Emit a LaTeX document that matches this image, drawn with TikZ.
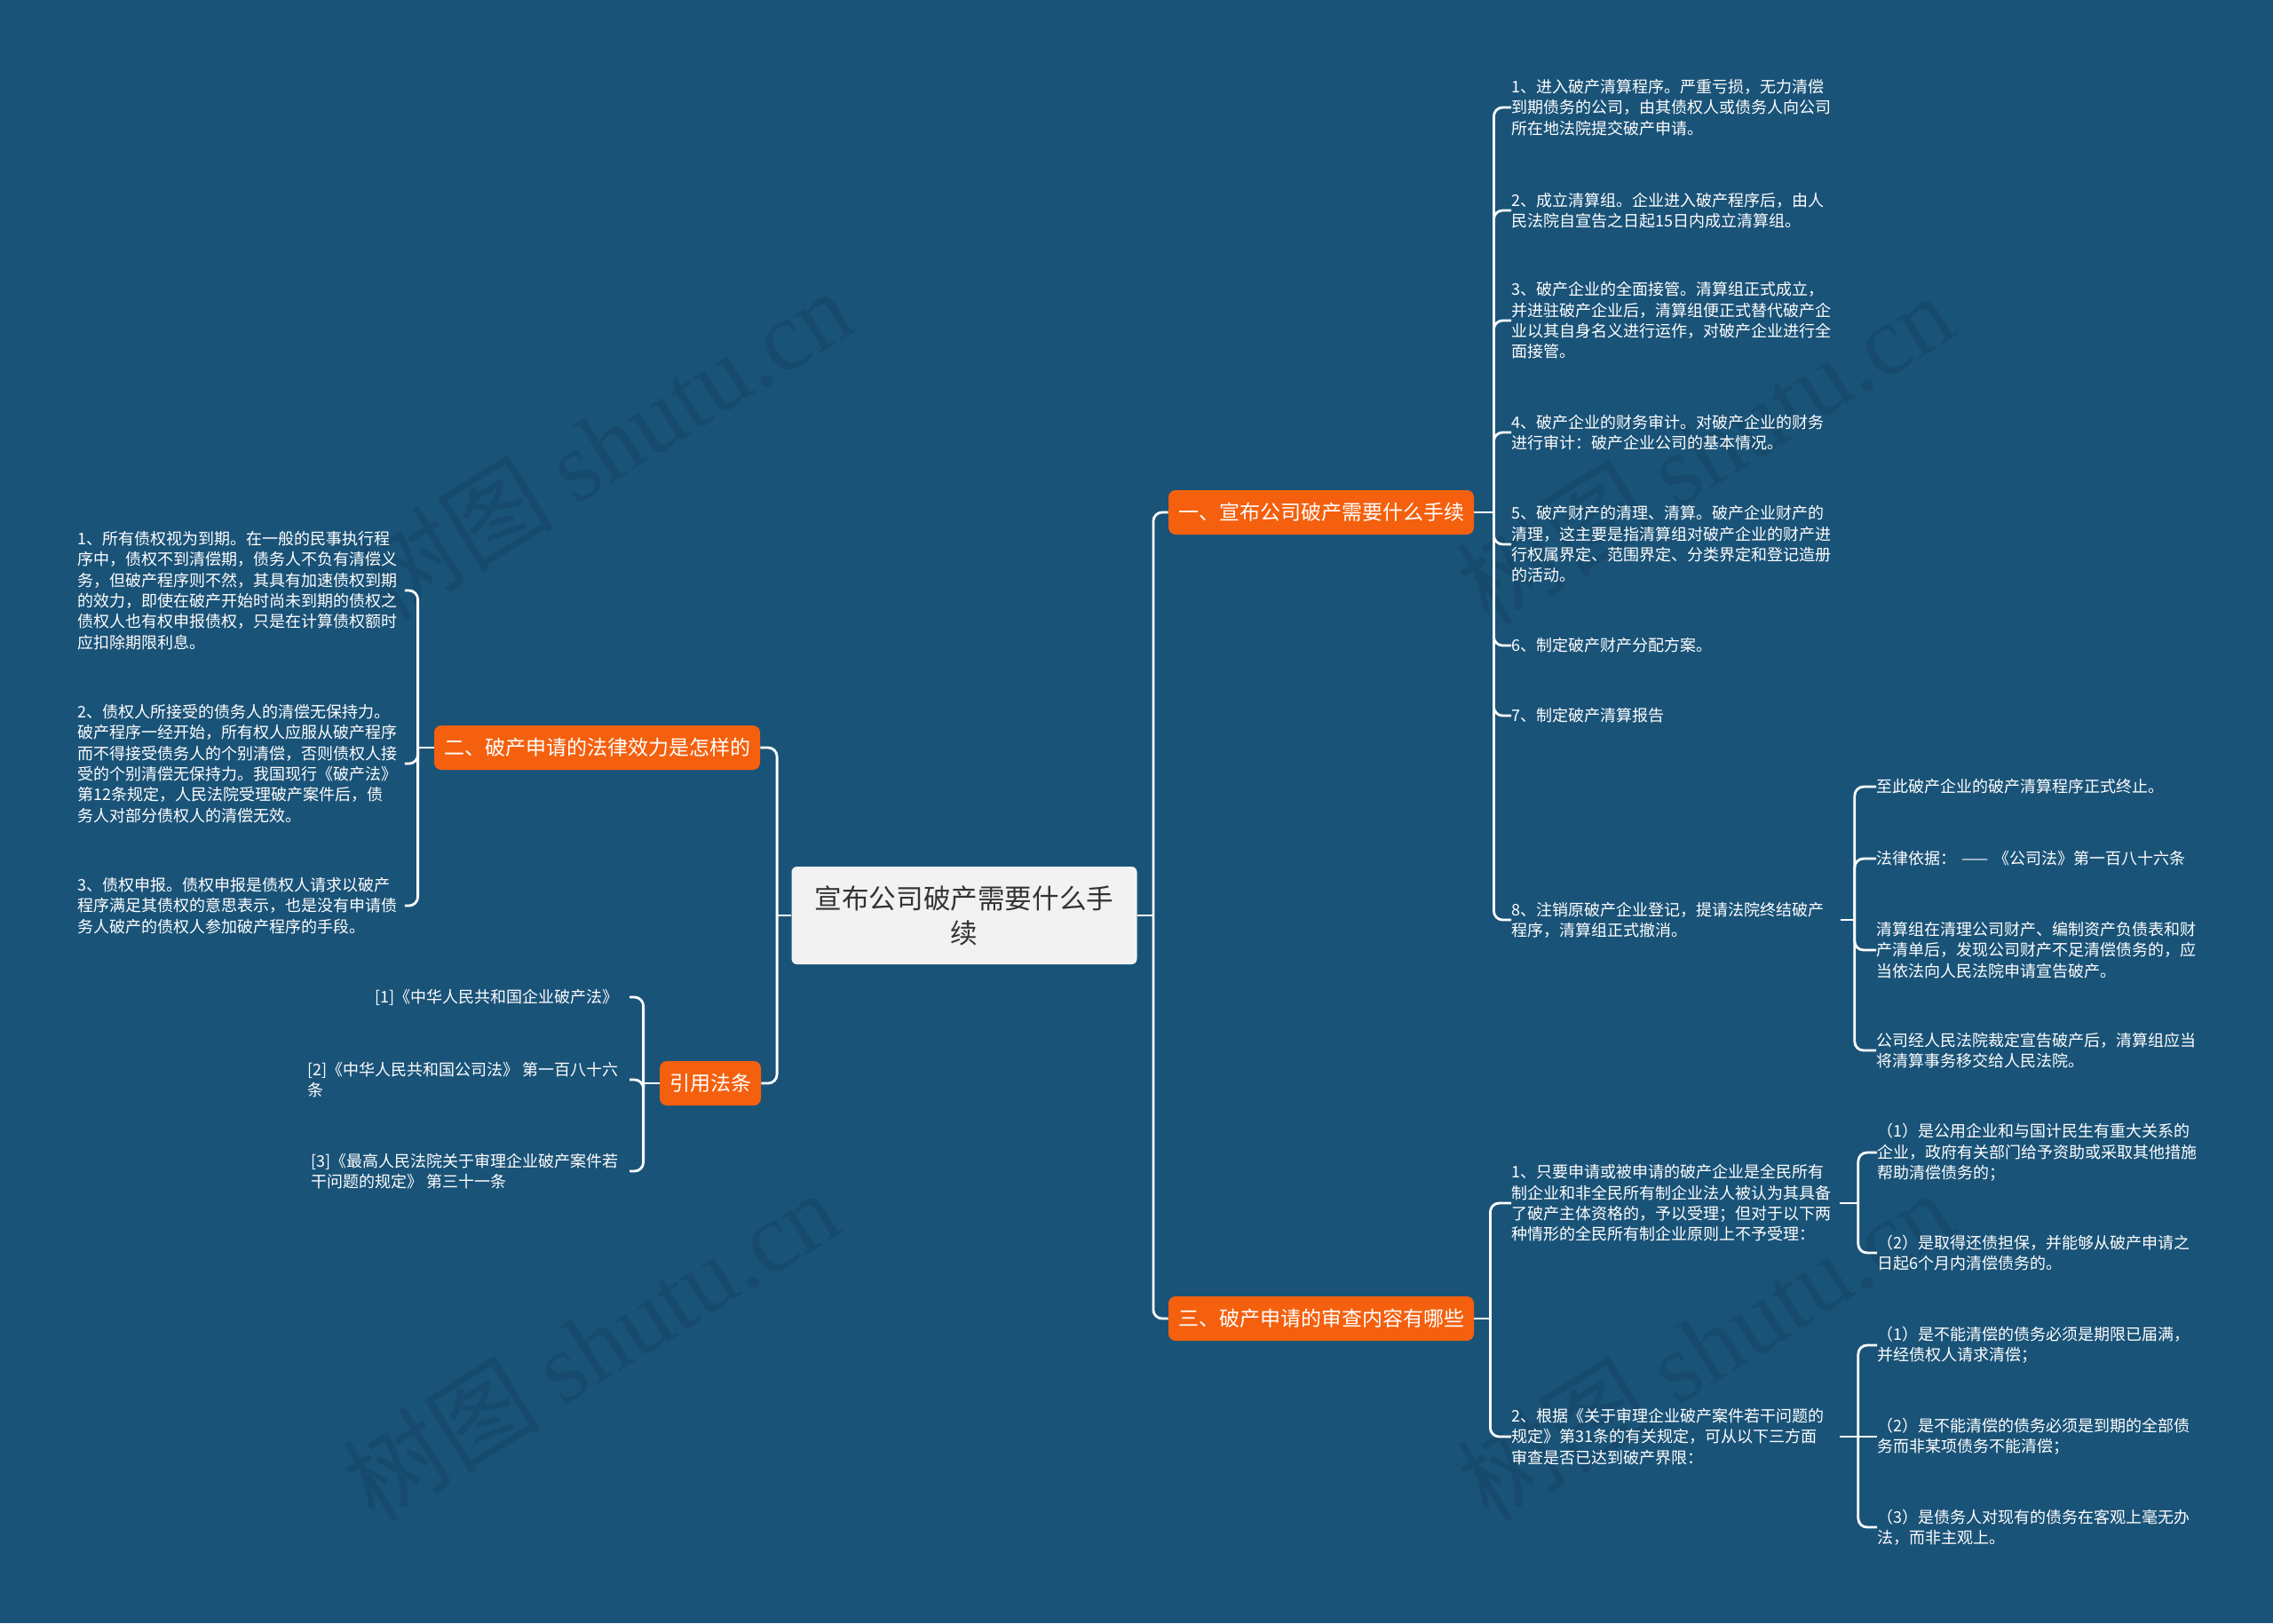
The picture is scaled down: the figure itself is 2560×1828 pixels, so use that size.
\documentclass[tikz,border=0pt]{standalone}
\usepackage{fontspec}
\setmainfont{Noto Sans CJK SC}
\newfontfamily\wmlatin{Liberation Serif}
\definecolor{bgblue}{HTML}{1A5378}
\definecolor{brorange}{HTML}{F4600E}
\definecolor{rootfill}{HTML}{F2F2F2}
\definecolor{roottext}{HTML}{333333}
\tikzset{
  conn/.style={draw=white, line width=1.4pt, rounded corners=5pt},
  rootbox/.style={fill=rootfill, text=roottext, rounded corners=3pt, minimum width=194.5pt, minimum height=55pt, align=center, font=\fontsize{15.3}{19.5}\selectfont},
  brbox/.style={fill=brorange, text=white, rounded corners=4pt, minimum height=25pt, inner xsep=5.5pt, inner ysep=0pt, font=\fontsize{11.5}{14}\selectfont},
  leaf/.style={text=white, font=\fontsize{9}{11.65}\selectfont, align=left, inner sep=0pt},
  leafR/.style={leaf, anchor=west, text width=181pt},
  leafL/.style={leaf, anchor=east},
  wm/.style={rotate=32, text=black, opacity=0.09, font=\fontsize{56}{60}\selectfont}
}
\begin{document}
\begin{tikzpicture}[x=0.5pt,y=-0.5pt]
\fill[bgblue] (0,0) rectangle (2560,1828);
\useasboundingbox (0,0) rectangle (2560,1828);
% watermarks
\node[wm] (wm1) at (680,500) {树图 {\wmlatin shutu.cn}};
\node[wm] (wm2) at (1920,505) {树图 {\wmlatin shutu.cn}};
\node[wm] (wm3) at (665,1515) {树图 {\wmlatin shutu.cn}};
\node[wm] (wm4) at (1920,1515) {树图 {\wmlatin shutu.cn}};

% root and branches
\node[rootbox] (root) at (1086,1031) {宣布公司破产需要什么手\\续};
\node[brbox, minimum width=172pt] (b1) at (1488,577) {一、宣布公司破产需要什么手续};
\node[brbox, minimum width=172pt] (b3) at (1488,1485) {三、破产申请的审查内容有哪些};
\node[brbox] (b2) at (672.5,842) {二、破产申请的法律效力是怎样的};
\node[brbox] (b4) at (800,1220) {引用法条};

% branch 1 leaves
\node[leafR] (c1) at (1702,121) {1、进入破产清算程序。严重亏损，无力清偿\\到期债务的公司，由其债权人或债务人向公司\\所在地法院提交破产申请。};
\node[leafR] (c2) at (1702,237) {2、成立清算组。企业进入破产程序后，由人\\民法院自宣告之日起15日内成立清算组。};
\node[leafR] (c3) at (1702,361) {3、破产企业的全面接管。清算组正式成立，\\并进驻破产企业后，清算组便正式替代破产企\\业以其自身名义进行运作，对破产企业进行全\\面接管。};
\node[leafR] (c4) at (1702,487) {4、破产企业的财务审计。对破产企业的财务\\进行审计：破产企业公司的基本情况。};
\node[leafR] (c5) at (1702,613) {5、破产财产的清理、清算。破产企业财产的\\清理，这主要是指清算组对破产企业的财产进\\行权属界定、范围界定、分类界定和登记造册\\的活动。};
\node[leafR] (c6) at (1702,727) {6、制定破产财产分配方案。};
\node[leafR] (c7) at (1702,806) {7、制定破产清算报告};
\node[leafR] (c8) at (1702,1036) {8、注销原破产企业登记，提请法院终结破产\\程序，清算组正式撤消。};
\node[leafR] (d1) at (2113,886) {至此破产企业的破产清算程序正式终止。};
\node[leafR] (d2) at (2113,967) {法律依据： —— 《公司法》第一百八十六条};
\node[leafR] (d3) at (2113,1070) {清算组在清理公司财产、编制资产负债表和财\\产清单后，发现公司财产不足清偿债务的，应\\当依法向人民法院申请宣告破产。};
\node[leafR] (d4) at (2113,1183) {公司经人民法院裁定宣告破产后，清算组应当\\将清算事务移交给人民法院。};

% branch 3 leaves
\node[leafR] (e1) at (1702,1355) {1、只要申请或被申请的破产企业是全民所有\\制企业和非全民所有制企业法人被认为其具备\\了破产主体资格的，予以受理；但对于以下两\\种情形的全民所有制企业原则上不予受理：};
\node[leafR] (e2) at (1702,1618) {2、根据《关于审理企业破产案件若干问题的\\规定》第31条的有关规定，可从以下三方面\\审查是否已达到破产界限：};
\node[leafR] (f1) at (2114,1298) {（1）是公用企业和与国计民生有重大关系的\\企业，政府有关部门给予资助或采取其他措施\\帮助清偿债务的；};
\node[leafR] (f2) at (2114,1411) {（2）是取得还债担保，并能够从破产申请之\\日起6个月内清偿债务的。};
\node[leafR] (g1) at (2114,1515) {（1）是不能清偿的债务必须是期限已届满，\\并经债权人请求清偿；};
\node[leafR] (g2) at (2114,1618) {（2）是不能清偿的债务必须是到期的全部债\\务而非某项债务不能清偿；};
\node[leafR] (g3) at (2114,1720) {（3）是债务人对现有的债务在客观上毫无办\\法，而非主观上。};

% branch 2 leaves
\node[leafR] (h1) at (87,665) {1、所有债权视为到期。在一般的民事执行程\\序中，债权不到清偿期，债务人不负有清偿义\\务，但破产程序则不然，其具有加速债权到期\\的效力，即使在破产开始时尚未到期的债权之\\债权人也有权申报债权，只是在计算债权额时\\应扣除期限利息。};
\node[leafR] (h2) at (87,860) {2、债权人所接受的债务人的清偿无保持力。\\破产程序一经开始，所有权人应服从破产程序\\而不得接受债务人的个别清偿，否则债权人接\\受的个别清偿无保持力。我国现行《破产法》\\第12条规定，人民法院受理破产案件后，债\\务人对部分债权人的清偿无效。};
\node[leafR] (h3) at (87,1020) {3、债权申报。债权申报是债权人请求以破产\\程序满足其债权的意思表示，也是没有申请债\\务人破产的债权人参加破产程序的手段。};

% branch 4 leaves
\node[leafL] (r1) at (697,1123) {[1]《中华人民共和国企业破产法》};
\node[leafL] (r2) at (697,1216) {[2]《中华人民共和国公司法》 第一百八十六\\条};
\node[leafL] (r3) at (697,1319) {[3]《最高人民法院关于审理企业破产案件若\\干问题的规定》 第三十一条};

% junctions
\coordinate (kR) at ([xshift=9pt]root.east);
\coordinate (kL) at ([xshift=-8pt]root.west);
\coordinate (kb1) at ([xshift=11pt]b1.east);
\coordinate (kb3) at ([xshift=9pt]b3.east);
\coordinate (kb2) at ([xshift=-9pt]b2.west);
\coordinate (kb4) at ([xshift=-9pt]b4.west);
\coordinate (k8) at ([xshift=12pt]c8.east);
\coordinate (ke1) at ([xshift=14pt]e1.east);
\coordinate (ke2) at ([xshift=14pt]e2.east);

% connectors
\draw[conn] (root.east) -- (kR);
\draw[conn] (kR) |- (b1.west);
\draw[conn] (kR) |- (b3.west);
\draw[conn] (root.west) -- (kL);
\draw[conn] (kL) |- (b2.east);
\draw[conn] (kL) |- (b4.east);

\draw[conn] (b1.east) -- (kb1);
\foreach \n in {c1,c2,c3,c4,c5,c6,c7,c8} \draw[conn] (kb1) |- (\n.west);
\draw[conn, shorten <=4pt] (c8.east) -- (k8);
\foreach \n in {d1,d2,d3,d4} \draw[conn] (k8) |- (\n.west);

\draw[conn] (b3.east) -- (kb3);
\draw[conn] (kb3) |- (e1.west);
\draw[conn] (kb3) |- (e2.west);
\draw[conn, shorten <=3.5pt] (e1.east) -- (ke1);
\draw[conn, shorten <=3.5pt] (e2.east) -- (ke2);
\draw[conn] (ke1) |- (f1.west);
\draw[conn] (ke1) |- (f2.west);
\draw[conn] (ke2) |- (g1.west);
\draw[conn] (ke2) -- (g2.west);
\draw[conn] (ke2) |- (g3.west);

\draw[conn] (b2.west) -- (kb2);
\foreach \n in {h1,h2,h3} \draw[conn, shorten >=3pt] (kb2) |- (\n.east);

\draw[conn] (b4.west) -- (kb4);
\foreach \n in {r1,r2,r3} \draw[conn, shorten >=6pt] (kb4) |- (\n.east);
\end{tikzpicture}
\end{document}
